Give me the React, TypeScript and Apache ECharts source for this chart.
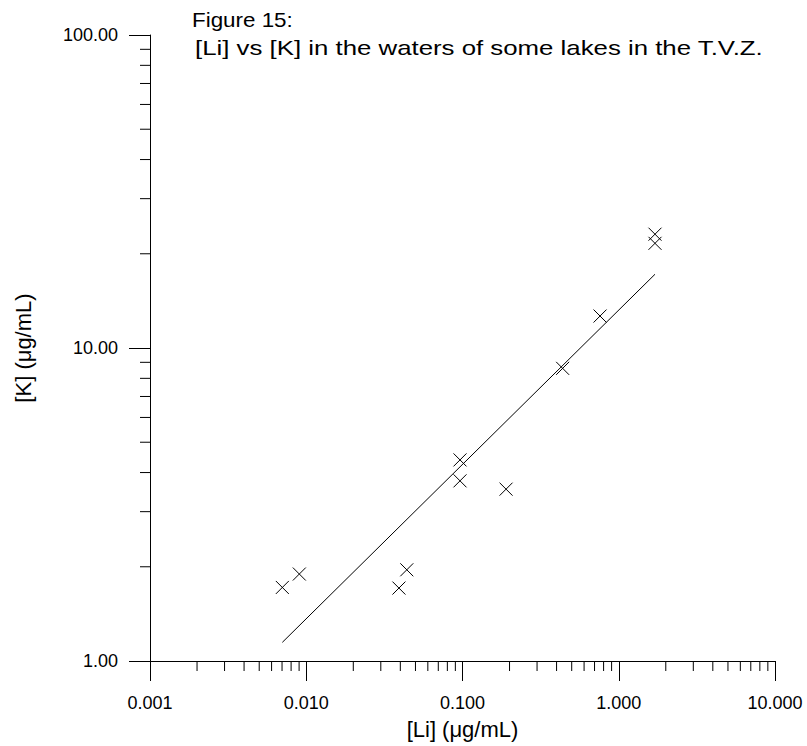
import React, { useEffect, useRef } from "react";
import * as echarts from "echarts";

// Data
const liValues = [0.00703, 0.00903, 0.0392, 0.044, 0.0964, 0.0964, 0.19, 0.4375, 0.759, 1.706, 1.706];
const kValues = [1.718, 1.896, 1.71, 1.956, 4.39, 3.763, 3.54, 8.61, 12.65, 23.1, 21.6];
const fitLi = [0.00703, 1.706];
const fitK = [1.147, 17.2];

// Axis ticks
const xTickLabels = ["0.001", "0.010", "0.100", "1.000", "10.000"];
const yTickLabels = ["1.00", "10.00", "100.00"];
const minorMultipliers = [2, 3, 4, 5, 6, 7, 8, 9];
const xDecades = [0.001, 0.01, 0.1, 1];
const yDecades = [1, 10];

const FONT = "'Liberation Sans', Arial, Helvetica, sans-serif";

export default function App() {
  const ref = useRef<HTMLDivElement>(null);

  useEffect(() => {
    if (!ref.current) return;
    const chart = echarts.init(ref.current, undefined, { renderer: "svg" });

    const points = liValues.map((v, i) => [v, kValues[i]]);
    const fitLine = fitLi.map((v, i) => [v, fitK[i]]);
    const xMinor: number[][] = [];
    xDecades.forEach((d) => minorMultipliers.forEach((m) => xMinor.push([d * m, 1])));
    const yMinor: number[][] = [];
    yDecades.forEach((d) => minorMultipliers.forEach((m) => yMinor.push([0.001, d * m])));

    const lineStyle = { stroke: "#000", lineWidth: 1 };

    chart.setOption({
      animation: false,
      backgroundColor: "#fff",
      grid: { left: 150, right: 32, top: 35, bottom: 85, containLabel: false, outerBoundsMode: "none" },
      graphic: [
        {
          type: "text",
          x: 192,
          y: 20,
          scaleX: 1.12,
          style: { text: "Figure 15:", font: `20px ${FONT}`, fill: "#000", align: "left", verticalAlign: "middle" },
        },
        {
          type: "text",
          x: 195,
          y: 48,
          scaleX: 1.29,
          style: {
            text: "[Li] vs [K] in the waters of some lakes in the T.V.Z.",
            font: `20px ${FONT}`,
            fill: "#000",
            align: "left",
            verticalAlign: "middle",
          },
        },
      ],
      xAxis: {
        type: "log",
        logBase: 10,
        min: 0.001,
        max: 10,
        name: "[Li] (μg/mL)",
        nameLocation: "middle",
        nameGap: 57,
        nameTextStyle: { fontFamily: FONT, fontSize: 22, color: "#000" },
        axisLine: { show: true, onZero: false, lineStyle: { color: "#000", width: 1 } },
        axisTick: { show: true, inside: false, length: 20, lineStyle: { color: "#000", width: 1 } },
        axisLabel: {
          margin: 33,
          fontFamily: FONT,
          fontSize: 18,
          color: "#000",
          showMinLabel: true,
          showMaxLabel: true,
          formatter: (v: number) => xTickLabels[Math.round(Math.log10(v)) + 3] ?? "",
        },
        splitLine: { show: false },
        minorTick: { show: false },
      },
      yAxis: {
        type: "log",
        logBase: 10,
        min: 1,
        max: 100,
        name: "[K] (μg/mL)",
        nameLocation: "middle",
        nameGap: 116,
        nameTextStyle: { fontFamily: FONT, fontSize: 22, color: "#000" },
        axisLine: { show: true, onZero: false, lineStyle: { color: "#000", width: 1 } },
        axisTick: { show: true, inside: false, length: 21, lineStyle: { color: "#000", width: 1 } },
        axisLabel: {
          margin: 32,
          fontFamily: FONT,
          fontSize: 18,
          color: "#000",
          showMinLabel: true,
          showMaxLabel: true,
          formatter: (v: number) => yTickLabels[Math.round(Math.log10(v))] ?? "",
        },
        splitLine: { show: false },
      },
      series: [
        {
          type: "line",
          data: fitLine,
          symbol: "none",
          lineStyle: { color: "#000", width: 1 },
          silent: true,
          z: 2,
        },
        {
          type: "custom",
          data: points,
          clip: false,
          silent: true,
          z: 3,
          renderItem: (params: any, api: any) => {
            const p = api.coord([api.value(0), api.value(1)]);
            const s = 6.5;
            return {
              type: "group",
              children: [
                { type: "line", shape: { x1: p[0] - s, y1: p[1] - s, x2: p[0] + s, y2: p[1] + s }, style: lineStyle },
                { type: "line", shape: { x1: p[0] - s, y1: p[1] + s, x2: p[0] + s, y2: p[1] - s }, style: lineStyle },
              ],
            };
          },
        },
        {
          type: "custom",
          data: xMinor,
          clip: false,
          silent: true,
          renderItem: (params: any, api: any) => {
            const p = api.coord([api.value(0), api.value(1)]);
            return { type: "line", shape: { x1: p[0], y1: p[1], x2: p[0], y2: p[1] + 10 }, style: lineStyle };
          },
        },
        {
          type: "custom",
          data: yMinor,
          clip: false,
          silent: true,
          renderItem: (params: any, api: any) => {
            const p = api.coord([api.value(0), api.value(1)]);
            return { type: "line", shape: { x1: p[0] - 10, y1: p[1], x2: p[0], y2: p[1] }, style: lineStyle };
          },
        },
      ],
    });

    return () => chart.dispose();
  }, []);

  return (
    <div
      ref={ref}
      style={{ position: "fixed", left: 0, top: 0, width: 807, height: 746, background: "#fff" }}
    />
  );
}
